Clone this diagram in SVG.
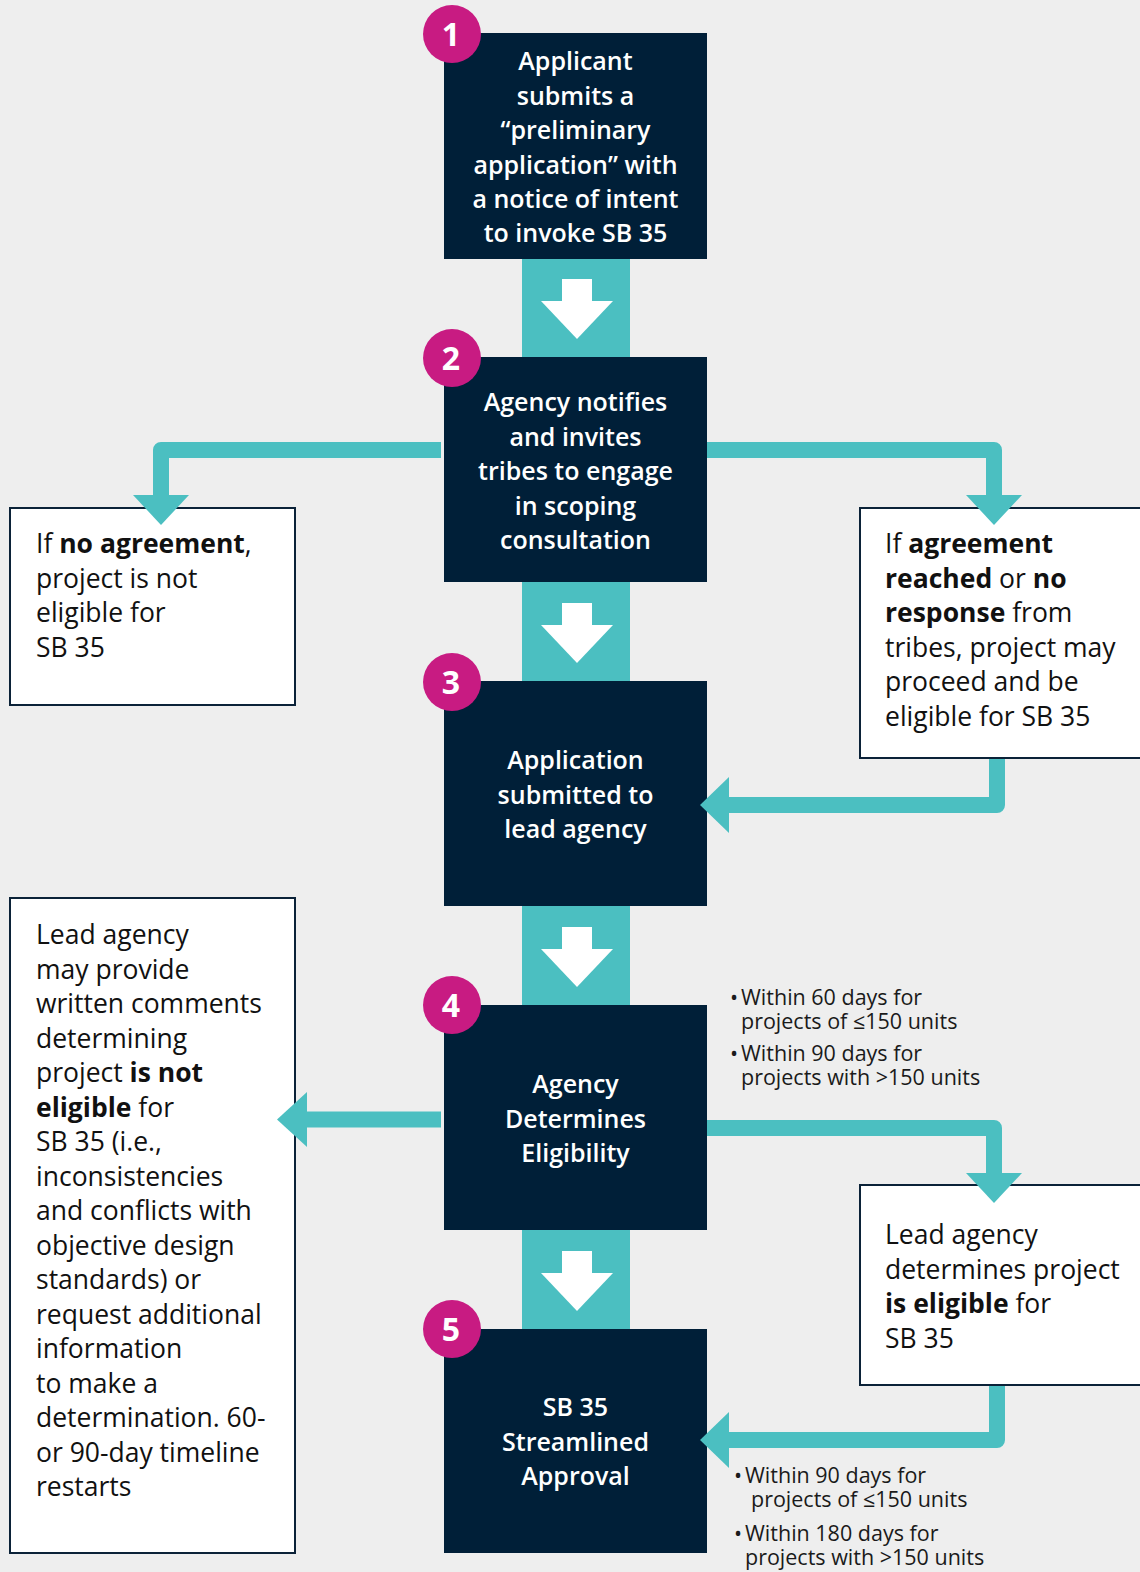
<svg xmlns="http://www.w3.org/2000/svg" width="1140" height="1572" viewBox="0 0 1140 1572">
<defs>
<style>
.bg{fill:#eeeeee}
.step{fill:#001f38}
.st{font-family:"Open Sans","Noto Sans","DejaVu Sans",sans-serif;font-weight:600;font-size:25px;fill:#ffffff;text-anchor:middle}
.badge{fill:#c81b82}
.bn{font-family:"Open Sans","Noto Sans","DejaVu Sans",sans-serif;font-weight:700;font-size:32px;fill:#ffffff;text-anchor:middle}
.note{fill:#ffffff;stroke:#0b2238;stroke-width:2}
.nt{font-family:"Open Sans","Noto Sans","DejaVu Sans",sans-serif;font-weight:400;font-size:26.5px;fill:#111111}
.b{font-weight:700}
.an{font-family:"Open Sans","Noto Sans","DejaVu Sans",sans-serif;font-weight:400;font-size:21.5px;fill:#1a1a1a}
.bar{fill:#4bbfc1}
.wa{fill:#ffffff}
.con{fill:none;stroke:#4bbfc1;stroke-width:16;stroke-linejoin:round}
.ah{fill:#4bbfc1}
</style>
</defs>
<rect class="bg" x="0" y="0" width="1140" height="1572"/>

<g id="step1">
  <rect class="step" x="444" y="33" width="263" height="226"/>
  <text class="st" x="575.5" y="70">Applicant</text>
  <text class="st" x="575.5" y="104.5">submits a</text>
  <text class="st" x="575.5" y="139">“preliminary</text>
  <text class="st" x="575.5" y="173.5">application” with</text>
  <text class="st" x="575.5" y="208">a notice of intent</text>
  <text class="st" x="575.5" y="242">to invoke SB 35</text>
  <circle class="badge" cx="452" cy="34" r="29"/>
  <text class="bn" x="451" y="46">1</text>
</g>

<g id="step2">
  <rect class="step" x="444" y="357" width="263" height="225"/>
  <text class="st" x="575.5" y="411">Agency notifies</text>
  <text class="st" x="575.5" y="445.5">and invites</text>
  <text class="st" x="575.5" y="480">tribes to engage</text>
  <text class="st" x="575.5" y="514.5">in scoping</text>
  <text class="st" x="575.5" y="549">consultation</text>
  <circle class="badge" cx="452" cy="358" r="29"/>
  <text class="bn" x="451" y="370">2</text>
</g>

<g id="step3">
  <rect class="step" x="444" y="681" width="263" height="225"/>
  <text class="st" x="575.5" y="769">Application</text>
  <text class="st" x="575.5" y="803.5">submitted to</text>
  <text class="st" x="575.5" y="838">lead agency</text>
  <circle class="badge" cx="452" cy="682" r="29"/>
  <text class="bn" x="451" y="694">3</text>
</g>

<g id="step4">
  <rect class="step" x="444" y="1005" width="263" height="225"/>
  <text class="st" x="575.5" y="1093">Agency</text>
  <text class="st" x="575.5" y="1127.5">Determines</text>
  <text class="st" x="575.5" y="1162">Eligibility</text>
  <circle class="badge" cx="452" cy="1005" r="29"/>
  <text class="bn" x="451" y="1017">4</text>
</g>

<g id="step5">
  <rect class="step" x="444" y="1329" width="263" height="224"/>
  <text class="st" x="575.5" y="1416">SB 35</text>
  <text class="st" x="575.5" y="1450.5">Streamlined</text>
  <text class="st" x="575.5" y="1485">Approval</text>
  <circle class="badge" cx="452" cy="1329" r="29"/>
  <text class="bn" x="451" y="1341">5</text>
</g>

<g id="no-agreement">
  <rect class="note" x="10" y="508" width="285" height="197"/>
  <text class="nt" x="36" y="553">If <tspan class="b">no agreement</tspan>,</text>
  <text class="nt" x="36" y="587.5">project is not</text>
  <text class="nt" x="36" y="622">eligible for</text>
  <text class="nt" x="36" y="656.5">SB 35</text>
</g>

<g id="agreement-reached">
  <rect class="note" x="860" y="508" width="290" height="250"/>
  <text class="nt" x="885" y="553">If <tspan class="b">agreement</tspan></text>
  <text class="nt" x="885" y="587.5"><tspan class="b">reached</tspan> or <tspan class="b">no</tspan></text>
  <text class="nt" x="885" y="622"><tspan class="b">response</tspan> from</text>
  <text class="nt" x="885" y="656.5">tribes, project may</text>
  <text class="nt" x="885" y="691">proceed and be</text>
  <text class="nt" x="885" y="725.5">eligible for SB 35</text>
</g>

<g id="not-eligible">
  <rect class="note" x="10" y="898" width="285" height="655"/>
  <text class="nt" x="36" y="944">Lead agency</text>
  <text class="nt" x="36" y="978.5">may provide</text>
  <text class="nt" x="36" y="1013">written comments</text>
  <text class="nt" x="36" y="1047.5">determining</text>
  <text class="nt" x="36" y="1082">project <tspan class="b">is not</tspan></text>
  <text class="nt" x="36" y="1116.5"><tspan class="b">eligible</tspan> for</text>
  <text class="nt" x="36" y="1151">SB 35 (i.e.,</text>
  <text class="nt" x="36" y="1185.5">inconsistencies</text>
  <text class="nt" x="36" y="1220">and conflicts with</text>
  <text class="nt" x="36" y="1254.5">objective design</text>
  <text class="nt" x="36" y="1289">standards) or</text>
  <text class="nt" x="36" y="1323.5">request additional</text>
  <text class="nt" x="36" y="1358">information</text>
  <text class="nt" x="36" y="1392.5">to make a</text>
  <text class="nt" x="36" y="1427">determination. 60-</text>
  <text class="nt" x="36" y="1461.5">or 90-day timeline</text>
  <text class="nt" x="36" y="1496">restarts</text>
</g>

<g id="is-eligible">
  <rect class="note" x="860" y="1185" width="290" height="200"/>
  <text class="nt" x="885" y="1244">Lead agency</text>
  <text class="nt" x="885" y="1278.5">determines project</text>
  <text class="nt" x="885" y="1313"><tspan class="b">is eligible</tspan> for</text>
  <text class="nt" x="885" y="1347.5">SB 35</text>
</g>

<g id="timeline-eligibility">
  <text class="an" x="730" y="1005">•<tspan x="741">Within 60 days for</tspan></text>
  <text class="an" x="741" y="1029">projects of ≤150 units</text>
  <text class="an" x="730" y="1061">•<tspan x="741">Within 90 days for</tspan></text>
  <text class="an" x="741" y="1085">projects with &gt;150 units</text>
</g>

<g id="timeline-approval">
  <text class="an" x="734" y="1483">•<tspan x="745">Within 90 days for</tspan></text>
  <text class="an" x="751" y="1507">projects of ≤150 units</text>
  <text class="an" x="734" y="1541">•<tspan x="745">Within 180 days for</tspan></text>
  <text class="an" x="745" y="1565">projects with &gt;150 units</text>
</g>

<g id="connectors">
  <rect class="bar" x="522" y="259" width="108" height="98"/>
  <rect class="wa" x="562" y="279" width="30" height="23"/>
  <polygon class="wa" points="541,301 613,301 577,339"/>
  <rect class="bar" x="522" y="582" width="108" height="99"/>
  <rect class="wa" x="562" y="603" width="30" height="23"/>
  <polygon class="wa" points="541,625 613,625 577,663"/>
  <rect class="bar" x="522" y="906" width="108" height="99"/>
  <rect class="wa" x="562" y="927" width="30" height="23"/>
  <polygon class="wa" points="541,949 613,949 577,987"/>
  <rect class="bar" x="522" y="1230" width="108" height="99"/>
  <rect class="wa" x="562" y="1251" width="30" height="23"/>
  <polygon class="wa" points="541,1273 613,1273 577,1311"/>

  <path class="con" d="M441 450 H161 V497"/>
  <polygon class="ah" points="133,495 189,495 161,525"/>
  <path class="con" d="M707 450 H994 V497"/>
  <polygon class="ah" points="966,495 1022,495 994,525"/>
  <path class="con" d="M997 759 V805 H727"/>
  <polygon class="ah" points="729,777 729,833 700,805"/>
  <path class="con" d="M441 1119.5 H305"/>
  <polygon class="ah" points="307,1092 307,1147 277,1119.5"/>
  <path class="con" d="M707 1128 H994 V1175"/>
  <polygon class="ah" points="966,1173 1022,1173 994,1203"/>
  <path class="con" d="M997 1386 V1440 H727"/>
  <polygon class="ah" points="729,1412 729,1468 700,1440"/>
</g>
</svg>
